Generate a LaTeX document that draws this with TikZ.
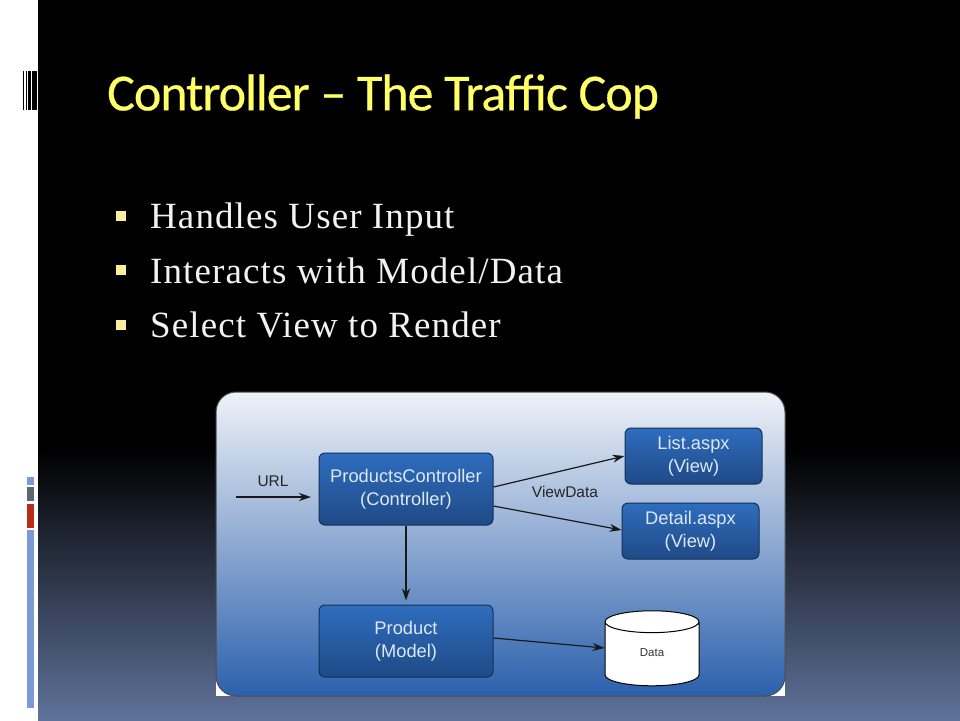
\documentclass[tikz,border=0pt]{standalone}
\usepackage{fontspec}
\setmainfont[LetterSpace=3]{Liberation Serif}
\setsansfont{Liberation Sans}
\newfontfamily\titlefont[LetterSpace=-2, FakeBold=0.4]{Carlito}
\usetikzlibrary{shapes.geometric, arrows.meta, positioning}
\definecolor{titleyellow}{HTML}{FFFF66}
\definecolor{bodytext}{HTML}{F2F2F2}
\definecolor{bulletyellow}{HTML}{FFEE99}
\definecolor{slidebottom}{HTML}{5F7299}
\definecolor{barblue}{HTML}{7B9AD6}
\definecolor{bargray}{HTML}{5C6670}
\definecolor{barred}{HTML}{B52F16}
\definecolor{boxtop}{HTML}{2F6DBE}
\definecolor{boxbottom}{HTML}{1F4A86}
\definecolor{boxline}{HTML}{123258}
\definecolor{boxtext}{HTML}{DCE8F6}
\definecolor{paneltop}{HTML}{EEF2F8}
\definecolor{panelmid}{HTML}{94AFD6}
\definecolor{panelbottom}{HTML}{2C60AC}
\tikzset{
    bullettext/.style={anchor=base west, inner sep=0pt, text=bodytext, font=\fontsize{37}{40}\selectfont},
    bulletmark/.style={fill=bulletyellow, minimum size=10pt, inner sep=0pt},
    flowbox/.style={rectangle, rounded corners=6pt, draw=boxline, line width=1pt, top color=boxtop, bottom color=boxbottom, text=boxtext, align=center, inner sep=0pt, font=\sffamily\fontsize{18.3}{23}\selectfont},
    flowlabel/.style={inner sep=0pt, text=black!85, font=\sffamily\fontsize{15.5}{18}\selectfont},
    arrow/.style={-{Stealth[length=12pt,width=8pt]}, line width=1.2pt, color=black!90}
}

\begin{document}
\begin{tikzpicture}[x=1pt, y=-1pt]
    \useasboundingbox (0,0) rectangle (960,720);
    % slide background
    \fill[white] (0,0) rectangle (38,720);
    \fill[black] (38,0) rectangle (960,450);
    \shade[top color=black, bottom color=slidebottom] (38,450) rectangle (960,720);
    % stripes and bars on the left edge
    \foreach \xa/\xb in {23/24, 26/27, 28/31, 32/37}
        \fill[black] (\xa,71) rectangle (\xb,110);
    \fill[barblue] (27,477) rectangle (34,485);
    \fill[bargray] (27,487) rectangle (34,501);
    \fill[barred] (27,504) rectangle (34,528);
    \fill[barblue] (27,530) rectangle (34,708);
    % title and bullets
    \node (title) [anchor=west, inner sep=0pt, text=titleyellow, font=\titlefont\fontsize{52}{56}\selectfont] at (107,96.5) {Controller – The Traffic Cop};
    \node (markone) [bulletmark] at (120.5,216) {};
    \node (marktwo) [bulletmark] at (120.5,270) {};
    \node (markthree) [bulletmark] at (120.5,325) {};
    \node (input) [bullettext] at (150,228) {Handles User Input};
    \node (model) [bullettext] at (150,283) {Interacts with Model/Data};
    \node (select) [bullettext] at (150,337) {Select View to Render};
    % panel, white shows at its two lower corners
    \fill[white] (216,660) rectangle (785,696);
    \node (panel) [rectangle, rounded corners=20pt, draw=black!70, line width=1pt, inner sep=0pt, minimum width=569pt, minimum height=304pt, top color=paneltop, middle color=panelmid, bottom color=panelbottom] at (500.5,544) {};
    \node (controller) [flowbox, minimum width=174pt, minimum height=72pt] at (406,489) {ProductsController\\(Controller)};
    \node (list) [flowbox, minimum width=137pt, minimum height=56pt] at (693.5,456) {List.aspx\\(View)};
    \node (detail) [flowbox, minimum width=137pt, minimum height=56pt] at (690.5,531) {Detail.aspx\\(View)};
    \node (product) [flowbox, minimum width=174pt, minimum height=72pt] at (406,641) {Product\\(Model)};
    \node (data) [cylinder, shape border rotate=90, aspect=0.9, draw=black, line width=1pt, fill=white, minimum width=94pt, minimum height=75pt, inner sep=0pt, text=black!80, font=\sffamily\fontsize{11.5}{13}\selectfont] at (652,654) {\raisebox{-2pt}[0pt][0pt]{Data}};
    \coordinate (urlstart) at (236,497);
    \coordinate (urlend) at (311,497);
    \node (url) [flowlabel] at (273,481) {URL};
    \node (viewdata) [flowlabel] at (565,492) {ViewData};
    % connectors
    \draw[arrow] (urlstart) -- (urlend);
    \draw[arrow] (controller.east |- 0,487) -- (list.west |- 0,456);
    \draw[arrow] (controller.east |- 0,506) -- (detail.west |- 0,530);
    \draw[arrow, shorten >=4pt] (controller) -- (product);
    \draw[arrow] (product.east |- 0,638) -- (data.west |- 0,648);
\end{tikzpicture}
\end{document}
